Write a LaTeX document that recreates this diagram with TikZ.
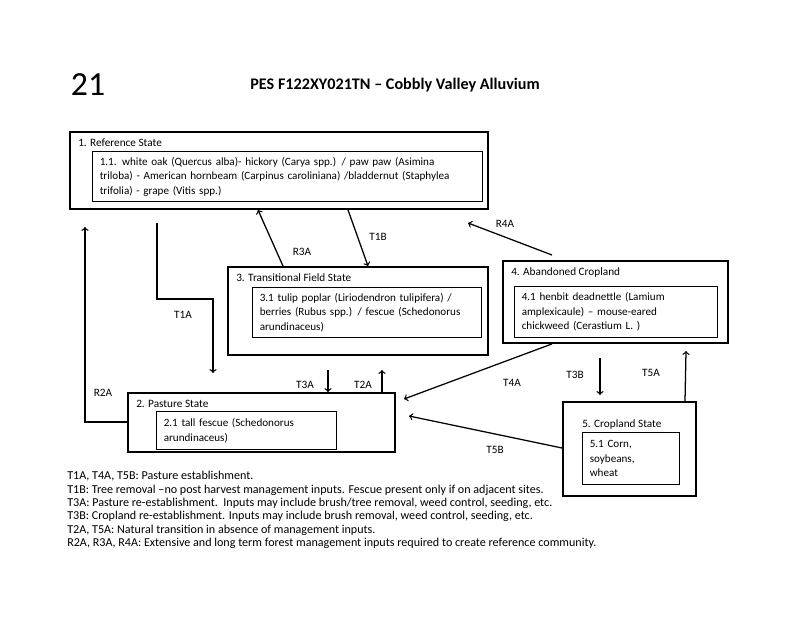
\documentclass[tikz,border=0pt]{standalone}
\usepackage{fontspec}
\setmainfont{Carlito}
\usetikzlibrary{fit}

\begin{document}
\begin{tikzpicture}[x=0.025cm, y=-0.025cm, >=to,
  outer/.style={draw, line width=1.3pt, inner sep=0pt},
  inner/.style={draw, line width=0.8pt, inner xsep=0.18cm, inner ysep=0pt, align=left, anchor=north west, font=\fontsize{7.9}{10.3}\selectfont},
  head/.style={anchor=west, inner sep=0pt, font=\fontsize{8}{10}\selectfont},
  lab/.style={inner sep=0pt, font=\fontsize{8}{10}\selectfont},
  arr/.style={->, line width=0.9pt}]
  \useasboundingbox (0,0) rectangle (800,617);

  \node[font=\fontsize{24}{26}\selectfont] (num) at (88,85) {21};
  \node[font=\bfseries\fontsize{11.5}{13}\selectfont] (title) at (395,85) {PES F122XY021TN -- Cobbly Valley Alluvium};

  % state boxes
  \node[outer, fit={(70,132) (488,209)}] (s1) {};
  \node[outer, fit={(228,267) (488,355)}] (s3) {};
  \node[outer, fit={(503,261) (728,343)}] (s4) {};
  \node[outer, fit={(128,393) (395,452)}] (s2) {};
  \node[outer, fit={(563,402) (696,496)}] (s5) {};

  \node[head] (h1) at (78,143) {1. Reference State};
  \node[head] (h3) at (236,278) {3. Transitional Field State};
  \node[head] (h4) at (511,272) {4. Abandoned Cropland};
  \node[head] (h2) at (136,404) {2. Pasture State};
  \node[head] (h5) at (582,424) {5. Cropland State};

  % community boxes
  \node[inner, text width=9.39cm, minimum height=1.25cm] (c1) at (92,151)
    {1.1. white oak (Quercus alba)- hickory (Carya spp.) / paw paw (Asimina\\ triloba) - American hornbeam (Carpinus caroliniana) /bladdernut (Staphylea\\ trifolia) - grape (Vitis spp.)};
  \node[inner, text width=5.365cm, minimum height=1.25cm] (c3) at (252,287)
    {3.1 tulip poplar (Liriodendron tulipifera) /\\ berries (Rubus spp.) / fescue (Schedonorus\\ arundinaceus)};
  \node[inner, text width=4.715cm, minimum height=1.275cm] (c4) at (514,286)
    {4.1 henbit deadnettle (Lamium\\ amplexicaule) -- mouse-eared\\ chickweed (Cerastium L. )};
  \node[inner, text width=4.14cm, minimum height=0.95cm] (c2) at (156,411)
    {2.1 tall fescue (Schedonorus\\ arundinaceus)};
  \node[inner, text width=2.065cm, minimum height=1.3cm] (c5) at (582,432)
    {5.1 Corn,\\ soybeans,\\ wheat};

  % free ends
  \coordinate (t1a) at (157,223);
  \coordinate (t1aend) at (213,373);
  \coordinate (r2aend) at (85,227);
  \coordinate (t3a) at (328,370);
  \coordinate (t2aend) at (382,370);
  \coordinate (t4aend) at (404,399);
  \coordinate (t5bend) at (409,416);
  \coordinate (t3b) at (600,358);
  \coordinate (t3bend) at (600,395);
  \coordinate (t5aend) at (686,351);
  \coordinate (r4a) at (552,255);
  \coordinate (r4aend) at (468,223);

  % transitions
  \draw[arr] (t1a) |- (213,299) -- (t1aend);
  \draw[arr] (s2.west |- 0,422) -| (r2aend);
  \draw[arr] (283,0 |- s3.north) -- (258,0 |- s1.south);
  \draw[arr] (348,0 |- s1.south) -- (368,0 |- s3.north);
  \draw[arr] (t3a) -- (t3a |- s2.north);
  \draw[arr] (t2aend |- s2.north) -- (t2aend);
  \draw[arr] (552,0 |- s4.south) -- (t4aend);
  \draw[arr] (s5.west |- 0,448) -- (t5bend);
  \draw[arr] (t3b) -- (t3bend);
  \draw[arr] (685,0 |- s5.north) -- (t5aend);
  \draw[arr] (r4a) -- (r4aend);

  \node[lab] (l1a) at (183,315) {T1A};
  \node[lab] (l2r) at (103,393) {R2A};
  \node[lab] (l3r) at (302,252) {R3A};
  \node[lab] (l1b) at (378,237) {T1B};
  \node[lab] (l3a) at (305,385) {T3A};
  \node[lab] (l2a) at (363,385) {T2A};
  \node[lab] (l4a) at (512,383) {T4A};
  \node[lab] (l5b) at (495,450) {T5B};
  \node[lab] (l3b) at (575,375) {T3B};
  \node[lab] (l5a) at (651,373) {T5A};
  \node[lab] (l4r) at (505,224) {R4A};

  % legend
  \node[anchor=north west, inner sep=0pt, align=left, font=\fontsize{8.6}{9.5}\selectfont] (legend) at (67,471)
    {T1A, T4A, T5B: Pasture establishment.\\
     T1B: Tree removal --no post harvest management inputs. Fescue present only if on adjacent sites.\\
     T3A: Pasture re-establishment.\ \ Inputs may include brush/tree removal, weed control, seeding, etc.\\
     T3B: Cropland re-establishment. Inputs may include brush removal, weed control, seeding, etc.\\
     T2A, T5A: Natural transition in absence of management inputs.\\
     R2A, R3A, R4A: Extensive and long term forest management inputs required to create reference community.};
\end{tikzpicture}
\end{document}
